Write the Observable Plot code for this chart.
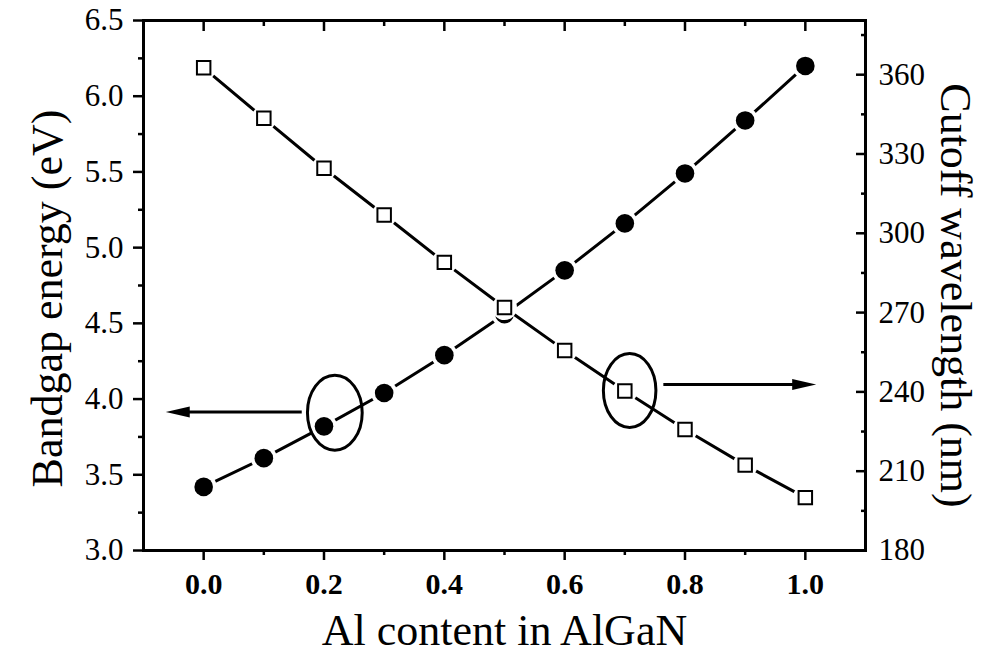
<!DOCTYPE html>
<html><head><meta charset="utf-8">
<script src="https://cdn.jsdelivr.net/npm/d3@7"></script>
<script src="https://cdn.jsdelivr.net/npm/@observablehq/plot@0.6"></script>
<style>
html,body{margin:0;padding:0;background:#fff;overflow:hidden}
#wrap{position:relative;width:982px;height:655px}
#wrap svg{position:absolute;left:0;top:0}
</style></head><body><div id="wrap"></div>
<script>
// ---- data ----
const alContent = [0, 0.1, 0.2, 0.3, 0.4, 0.5, 0.6, 0.7, 0.8, 0.9, 1.0];
const bandgapEV = [3.42, 3.61, 3.82, 4.04, 4.29, 4.56, 4.85, 5.16, 5.49, 5.84, 6.20];
const cutoffNM  = [362.6, 343.5, 324.6, 306.9, 289.0, 271.9, 255.7, 240.3, 225.8, 212.3, 200.0];

const xMajorTicks = [0, 0.2, 0.4, 0.6, 0.8, 1.0];
const xMinorTicks = [0.1, 0.3, 0.5, 0.7, 0.9];
const leftMajorTicks = [3.0, 3.5, 4.0, 4.5, 5.0, 5.5, 6.0, 6.5];
const leftMinorTicks = [3.25, 3.75, 4.25, 4.75, 5.25, 5.75, 6.25];
const rightMajorTicks = [180, 210, 240, 270, 300, 330, 360];
const rightMinorTicks = [195, 225, 255, 285, 315, 345, 375];

const xLabel = "Al content in AlGaN";
const leftLabel = "Bandgap energy (eV)";
const rightLabel = "Cutoff wavelength (nm)";

// annotations (ellipses + arrows)
const leftEllipse = [{x: 0.218, y: 3.91}];
const rightEllipse = [{x: 0.708, y: 240.5}];
const leftArrow = [{x1: 0.163, x2: -0.03, tip: -0.063, y: 3.915}];
const rightArrow = [{x1: 0.764, x2: 0.985, tip: 1.018, y: 242.8}];

// ---- tables ----
const circles = alContent.map((x, i) => ({x, y: bandgapEV[i]}));
const squares = alContent.map((x, i) => ({x, y: cutoffNM[i]}));

function ellipseSymbol(aspect) {
  return {draw(ctx, size) {
    const ry = Math.sqrt(size / Math.PI), rx = ry * aspect, k = 0.5523;
    ctx.moveTo(rx, 0);
    ctx.bezierCurveTo(rx, ry * k, rx * k, ry, 0, ry);
    ctx.bezierCurveTo(-rx * k, ry, -rx, ry * k, -rx, 0);
    ctx.bezierCurveTo(-rx, -ry * k, -rx * k, -ry, 0, -ry);
    ctx.bezierCurveTo(rx * k, -ry, rx, -ry * k, rx, 0);
    ctx.closePath();
  }};
}
function headSymbol(dir) {
  return {draw(ctx, size) {
    const L = 24, H = 5.5;
    ctx.moveTo(0, 0);
    ctx.lineTo(-dir * L, -H);
    ctx.lineTo(-dir * L, H);
    ctx.closePath();
  }};
}

const font = "'Liberation Serif', 'Times New Roman', serif";
const common = {
  width: 982, height: 655,
  marginLeft: 143, marginRight: 117, marginTop: 20, marginBottom: 105
};
const blank = () => "";

const p1 = Plot.plot({
  ...common,
  style: {fontFamily: font, fontSize: "30px", color: "black", background: "white", overflow: "visible"},
  x: {domain: [-0.1, 1.1]},
  y: {domain: [3, 6.5]},
  marks: [
    Plot.axisX({ticks: xMajorTicks, anchor: "bottom", tickSize: 10, tickPadding: 12, tickFormat: d3.format(".1f"), fontWeight: "bold", fontSize: 30, strokeWidth: 2.5, label: null}),
    Plot.axisX({ticks: xMinorTicks, anchor: "bottom", tickSize: 5, tickFormat: blank, strokeWidth: 2.5, label: null}),
    Plot.axisX({ticks: xMajorTicks, anchor: "top", tickSize: 10, dy: 10, tickFormat: blank, strokeWidth: 2.5, label: null}),
    Plot.axisX({ticks: xMinorTicks, anchor: "top", tickSize: 5, dy: 5, tickFormat: blank, strokeWidth: 2.5, label: null}),
    Plot.axisY({ticks: leftMajorTicks, anchor: "left", tickSize: 10, tickPadding: 10, tickFormat: d3.format(".1f"), fontSize: 31, strokeWidth: 2.5, label: null}),
    Plot.axisY({ticks: leftMinorTicks, anchor: "left", tickSize: 5, tickFormat: blank, strokeWidth: 2.5, label: null}),
    Plot.frame({stroke: "black", strokeWidth: 3}),
    Plot.text([xLabel], {text: d => d, frameAnchor: "bottom", dy: 80, textAnchor: "middle", lineAnchor: "middle", fontSize: 44, fill: "black"}),
    Plot.text([leftLabel], {text: d => d, frameAnchor: "left", dx: -96, dy: 13, rotate: -90, textAnchor: "middle", lineAnchor: "middle", fontSize: 44, fill: "black"}),
    Plot.line(circles, {x: "x", y: "y", stroke: "black", strokeWidth: 3}),
    Plot.dot(circles, {x: "x", y: "y", r: 13, fill: "white"}),
    Plot.dot(circles, {x: "x", y: "y", r: 9.3, fill: "black"}),
    Plot.dot(leftEllipse, {x: "x", y: "y", r: 37.5, symbol: ellipseSymbol(0.73), fill: "none", stroke: "black", strokeWidth: 3}),
    Plot.link(leftArrow, {x1: "x1", x2: "x2", y1: "y", y2: "y", stroke: "black", strokeWidth: 3}),
    Plot.dot(leftArrow, {x: "tip", y: "y", r: 5, symbol: headSymbol(-1), fill: "black"})
  ]
});

const p2 = Plot.plot({
  ...common,
  style: {fontFamily: font, fontSize: "30px", color: "black", background: "transparent", overflow: "visible"},
  x: {domain: [-0.1, 1.1], axis: null},
  y: {domain: [180, 380.5]},
  marks: [
    Plot.axisY({ticks: rightMajorTicks, anchor: "right", tickSize: 10, dx: -10, tickFormat: blank, strokeWidth: 2.5, label: null}),
    Plot.axisY({ticks: rightMinorTicks, anchor: "right", tickSize: 5, dx: -5, tickFormat: blank, strokeWidth: 2.5, label: null}),
    Plot.axisY({ticks: rightMajorTicks, anchor: "right", tickSize: 0, tickPadding: 13, tickFormat: d3.format("d"), fontSize: 31, label: null}),
    Plot.text([rightLabel], {text: d => d, frameAnchor: "right", dx: 90, dy: 10, rotate: 90, textAnchor: "middle", lineAnchor: "middle", fontSize: 44, fill: "black"}),
    Plot.line(squares, {x: "x", y: "y", stroke: "black", strokeWidth: 3}),
    Plot.dot(squares, {x: "x", y: "y", r: 12.5, fill: "white"}),
    Plot.dot(squares, {x: "x", y: "y", r: 7.6, symbol: "square", fill: "white", stroke: "black", strokeWidth: 2}),
    Plot.dot(rightEllipse, {x: "x", y: "y", r: 37, symbol: ellipseSymbol(0.71), fill: "none", stroke: "black", strokeWidth: 3}),
    Plot.link(rightArrow, {x1: "x1", x2: "x2", y1: "y", y2: "y", stroke: "black", strokeWidth: 3}),
    Plot.dot(rightArrow, {x: "tip", y: "y", r: 5, symbol: headSymbol(1), fill: "black"})
  ]
});

const wrap = document.getElementById("wrap");
wrap.appendChild(p1);
wrap.appendChild(p2);
</script></body></html>
